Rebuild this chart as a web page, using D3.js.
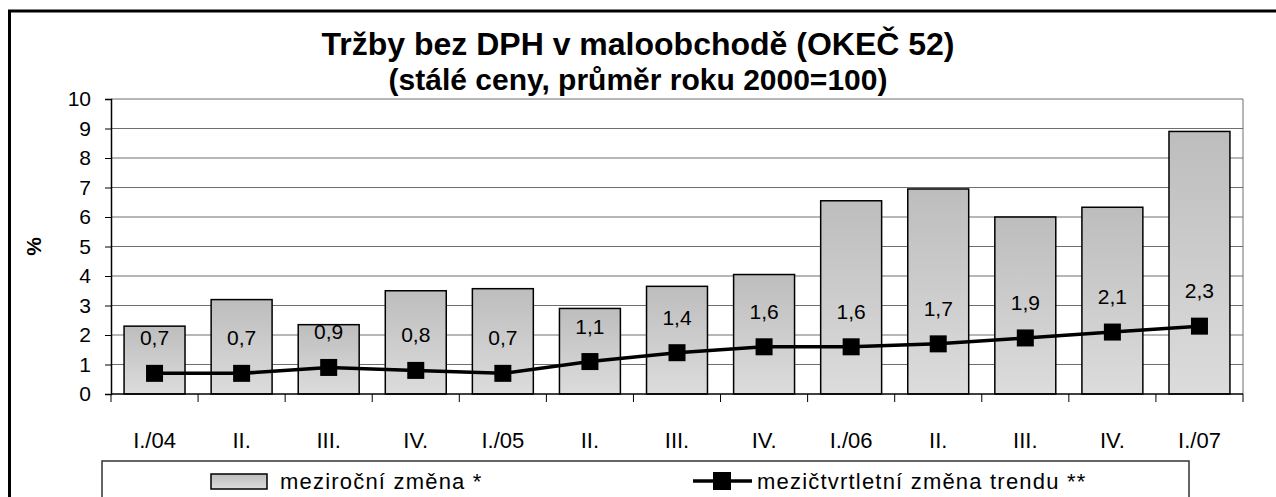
<!DOCTYPE html>
<html>
<head>
<meta charset="utf-8">
<script src="https://cdn.jsdelivr.net/npm/d3@7"></script>
<style>
  body { margin: 0; background: #fff; }
  svg { font-family: Arial, "Liberation Sans", sans-serif; }
</style>
</head>
<body>
<div id="chart"></div>
<script>
// chart data
const CATEGORIES = ['I./04', 'II.', 'III.', 'IV.', 'I./05', 'II.', 'III.', 'IV.', 'I./06', 'II.', 'III.', 'IV.', 'I./07'];
const YOY = [2.3, 3.2, 2.35, 3.5, 3.57, 2.9, 3.65, 4.05, 6.55, 6.95, 6.0, 6.33, 8.9];
const TREND = [0.7, 0.7, 0.9, 0.8, 0.7, 1.1, 1.4, 1.6, 1.6, 1.7, 1.9, 2.1, 2.3];
const Y_TICKS = [0, 1, 2, 3, 4, 5, 6, 7, 8, 9, 10];

const FRAME_WIDTH = 1276;
const FRAME_HEIGHT = 497;
const MARGINS = {left: 111, right: 33, top: 99, bottom: 103};
const VIS_WIDTH = FRAME_WIDTH - MARGINS.left - MARGINS.right;
const VIS_HEIGHT = FRAME_HEIGHT - MARGINS.top - MARGINS.bottom;

const svg = d3.select('#chart')
  .append('svg')
    .attr('width', FRAME_WIDTH)
    .attr('height', FRAME_HEIGHT);

// gradient for bars
const grad = svg.append('defs').append('linearGradient')
  .attr('id', 'barGrad').attr('x1', 0).attr('y1', 0).attr('x2', 0).attr('y2', 1);
grad.append('stop').attr('offset', '0%').attr('stop-color', '#bdbdbd');
grad.append('stop').attr('offset', '100%').attr('stop-color', '#dcdcdc');

// outer frame (top and left edges visible)
svg.append('path')
  .attr('d', 'M9.5,497 L9.5,11 L1276,11')
  .attr('fill', 'none')
  .attr('stroke', '#000')
  .attr('stroke-width', 3);

// title
svg.append('text')
  .attr('x', 638).attr('y', 55)
  .attr('text-anchor', 'middle')
  .attr('font-weight', 'bold')
  .attr('font-size', '32px')
  .text('Tržby bez DPH v maloobchodě (OKEČ 52)');
svg.append('text')
  .attr('x', 638).attr('y', 90)
  .attr('text-anchor', 'middle')
  .attr('font-weight', 'bold')
  .attr('font-size', '30px')
  .text('(stálé ceny, průměr roku 2000=100)');

// scales
const xscale = d3.scaleBand()
  .domain(d3.range(CATEGORIES.length))
  .range([MARGINS.left, MARGINS.left + VIS_WIDTH])
  .padding(0);
const yscale = d3.scaleLinear()
  .domain([0, 10])
  .range([MARGINS.top + VIS_HEIGHT, MARGINS.top]);

const BAR_W = xscale.bandwidth() * 0.7;
const cx = (i) => xscale(i) + xscale.bandwidth() / 2;

// gridlines
svg.append('g')
  .selectAll('line')
  .data(Y_TICKS.slice(1))
  .enter().append('line')
    .attr('x1', MARGINS.left).attr('x2', MARGINS.left + VIS_WIDTH)
    .attr('y1', (d) => yscale(d)).attr('y2', (d) => yscale(d))
    .attr('stroke', '#6e6e6e')
    .attr('stroke-width', 1);

// right border of plot area
svg.append('line')
  .attr('x1', MARGINS.left + VIS_WIDTH).attr('x2', MARGINS.left + VIS_WIDTH)
  .attr('y1', yscale(10)).attr('y2', yscale(0))
  .attr('stroke', '#6e6e6e');

// bars
svg.append('g')
  .selectAll('rect')
  .data(YOY)
  .enter().append('rect')
    .attr('x', (d, i) => cx(i) - BAR_W / 2)
    .attr('y', (d) => yscale(d))
    .attr('width', BAR_W)
    .attr('height', (d) => yscale(0) - yscale(d))
    .attr('fill', 'url(#barGrad)')
    .attr('stroke', '#000')
    .attr('stroke-width', 1.5);

// y axis
const yAxis = svg.append('g')
  .attr('transform', 'translate(' + MARGINS.left + ',0)')
  .call(d3.axisLeft(yscale).tickValues(Y_TICKS).tickSize(6).tickPadding(14).tickFormat(d3.format('d')));
yAxis.select('.domain').attr('stroke', '#000').attr('stroke-width', 1.5);
yAxis.selectAll('.tick line').attr('stroke', '#000');
yAxis.selectAll('text')
  .attr('font-size', '21px')
  .attr('fill', '#000')
  .attr('font-family', 'Arial, "Liberation Sans", sans-serif');

// x axis: labels
const xAxis = svg.append('g')
  .attr('transform', 'translate(0,' + yscale(0) + ')')
  .call(d3.axisBottom(xscale).tickSize(0).tickPadding(38).tickFormat((i) => CATEGORIES[i]));
xAxis.select('.domain').remove();
xAxis.selectAll('text')
  .attr('font-size', '22px')
  .attr('fill', '#000')
  .attr('font-family', 'Arial, "Liberation Sans", sans-serif');

// x axis line and boundary ticks
svg.append('line')
  .attr('x1', MARGINS.left).attr('x2', MARGINS.left + VIS_WIDTH)
  .attr('y1', yscale(0)).attr('y2', yscale(0))
  .attr('stroke', '#000').attr('stroke-width', 1.5);
const bounds = d3.range(CATEGORIES.length).map((i) => xscale(i)).concat([MARGINS.left + VIS_WIDTH]);
svg.append('g')
  .selectAll('line')
  .data(bounds)
  .enter().append('line')
    .attr('x1', (d) => d).attr('x2', (d) => d)
    .attr('y1', yscale(0)).attr('y2', yscale(0) + 8)
    .attr('stroke', '#000');

// y axis title
svg.append('text')
  .attr('transform', 'translate(41,' + yscale(5) + ') rotate(-90)')
  .attr('text-anchor', 'middle')
  .attr('font-weight', 'bold')
  .attr('font-size', '21px')
  .text('%');

// trend line
const line = d3.line()
  .x((d, i) => cx(i))
  .y((d) => yscale(d));
svg.append('path')
  .datum(TREND)
  .attr('d', line)
  .attr('fill', 'none')
  .attr('stroke', '#000')
  .attr('stroke-width', 3.5);

const MK = 17;
svg.append('g')
  .selectAll('rect')
  .data(TREND)
  .enter().append('rect')
    .attr('x', (d, i) => cx(i) - MK / 2)
    .attr('y', (d) => yscale(d) - MK / 2)
    .attr('width', MK).attr('height', MK)
    .attr('fill', '#000');

// trend labels
svg.append('g')
  .selectAll('text')
  .data(TREND)
  .enter().append('text')
    .attr('x', (d, i) => cx(i))
    .attr('y', (d) => yscale(d) - 28)
    .attr('text-anchor', 'middle')
    .attr('font-size', '21px')
    .text((d) => d3.format('.1f')(d).replace('.', ','));

// legend
svg.append('rect')
  .attr('x', 102).attr('y', 461)
  .attr('width', 1087).attr('height', 60)
  .attr('fill', '#fff')
  .attr('stroke', '#333')
  .attr('stroke-width', 1.5);

svg.append('rect')
  .attr('x', 211).attr('y', 474)
  .attr('width', 56).attr('height', 15)
  .attr('fill', 'url(#barGrad)')
  .attr('stroke', '#000')
  .attr('stroke-width', 1.5);
svg.append('text')
  .attr('x', 280).attr('y', 489)
  .attr('font-size', '22px')
  .attr('letter-spacing', '1.2px')
  .text('meziroční změna *');

svg.append('line')
  .attr('x1', 693).attr('x2', 752)
  .attr('y1', 481).attr('y2', 481)
  .attr('stroke', '#000').attr('stroke-width', 3.5);
svg.append('rect')
  .attr('x', 713).attr('y', 472)
  .attr('width', 18).attr('height', 18)
  .attr('fill', '#000');
svg.append('text')
  .attr('x', 757).attr('y', 489)
  .attr('font-size', '22px')
  .attr('letter-spacing', '1.2px')
  .text('mezičtvrtletní změna trendu **');
</script>
</body>
</html>
